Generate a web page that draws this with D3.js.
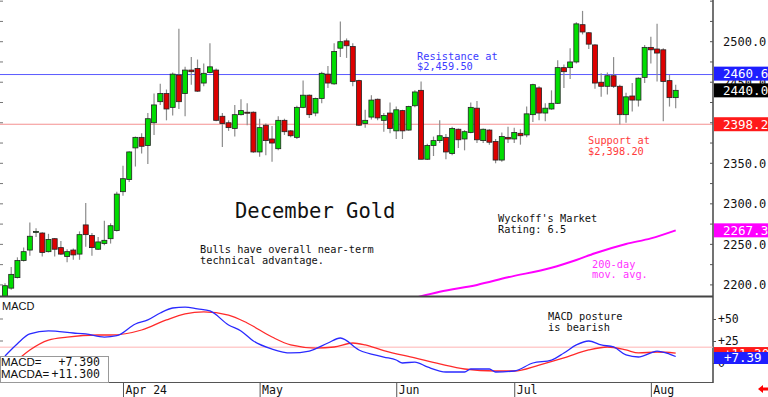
<!DOCTYPE html>
<html>
<head>
<meta charset="utf-8">
<script src="https://cdn.jsdelivr.net/npm/d3@7"></script>
<style>
  html, body { margin: 0; padding: 0; background: #fff; }
  svg { display: block; }
</style>
</head>
<body>
<div id="chart"></div>
<script>
// daily OHLC, one entry per trading day (index 0 = mid March, 108 = Aug 7)
const opens = [
  2186, 2196, 2209, 2230, 2243, 2265, 2264, 2241, 2257, 2246,
  2235, 2243, 2238, 2274, 2261, 2244, 2251, 2257, 2267, 2315,
  2330, 2369, 2382, 2372, 2400, 2426, 2436, 2419, 2459, 2436,
  2465, 2467, 2449, 2462, 2465, 2408, 2400, 2393, 2410, 2413,
  2413, 2364, 2397, 2380, 2368, 2403, 2390, 2382, 2419, 2434,
  2412, 2430, 2460, 2448, 2492, 2501, 2494, 2452, 2399, 2407,
  2429, 2403, 2412, 2390, 2415, 2391, 2421, 2440, 2355, 2372,
  2378, 2382, 2362, 2392, 2380, 2388, 2418, 2378, 2391, 2377,
  2354, 2382, 2380, 2387, 2385, 2410, 2443, 2412, 2417, 2424,
  2468, 2468, 2475, 2521, 2511, 2496, 2450, 2445, 2458, 2445,
  2410, 2433, 2428, 2456, 2493, 2491, 2490, 2452, 2431
];
const highs = [
  2202, 2222, 2234, 2246, 2277, 2270, 2265, 2263, 2258, 2254,
  2244, 2245, 2266, 2301, 2264, 2259, 2279, 2276, 2315, 2347,
  2365, 2383, 2387, 2412, 2436, 2448, 2441, 2462, 2516, 2469,
  2481, 2478, 2473, 2498, 2467, 2412, 2403, 2422, 2429, 2424,
  2414, 2405, 2399, 2396, 2408, 2405, 2391, 2421, 2452, 2435,
  2431, 2463, 2470, 2498, 2525, 2504, 2498, 2453, 2416, 2434,
  2430, 2412, 2425, 2420, 2416, 2421, 2440, 2451, 2374, 2383,
  2403, 2386, 2395, 2393, 2391, 2425, 2427, 2393, 2392, 2380,
  2388, 2395, 2394, 2392, 2420, 2448, 2445, 2424, 2440, 2477,
  2472, 2492, 2524, 2538, 2512, 2497, 2461, 2462, 2481, 2447,
  2437, 2449, 2456, 2496, 2506, 2522, 2492, 2459, 2447
];
const lows = [
  2184, 2194, 2208, 2229, 2236, 2259, 2235, 2240, 2235, 2237,
  2228, 2231, 2231, 2247, 2236, 2243, 2249, 2251, 2266, 2310,
  2327, 2346, 2362, 2349, 2385, 2422, 2403, 2409, 2417, 2408,
  2447, 2438, 2445, 2461, 2402, 2370, 2390, 2383, 2409, 2397,
  2363, 2358, 2360, 2352, 2366, 2385, 2382, 2380, 2418, 2406,
  2408, 2424, 2443, 2447, 2481, 2480, 2445, 2396, 2394, 2404,
  2403, 2389, 2387, 2380, 2380, 2390, 2419, 2355, 2354, 2359,
  2375, 2355, 2360, 2369, 2366, 2387, 2375, 2375, 2373, 2350,
  2352, 2375, 2375, 2373, 2382, 2401, 2403, 2402, 2416, 2423,
  2443, 2454, 2473, 2509, 2491, 2442, 2432, 2435, 2443, 2398,
  2400, 2414, 2420, 2449, 2473, 2451, 2402, 2420, 2418
];
const closes = [
  2199, 2213, 2230, 2241, 2260, 2266, 2240, 2256, 2244, 2238,
  2241, 2237, 2262, 2262, 2246, 2253, 2255, 2273, 2312, 2331,
  2364, 2382, 2371, 2405, 2422, 2436, 2417, 2460, 2426, 2465,
  2463, 2439, 2461, 2469, 2403, 2399, 2394, 2410, 2415, 2412,
  2364, 2394, 2378, 2375, 2403, 2389, 2384, 2419, 2434, 2410,
  2430, 2461, 2449, 2488, 2500, 2495, 2451, 2397, 2403, 2428,
  2406, 2409, 2393, 2416, 2390, 2420, 2438, 2355, 2372, 2378,
  2384, 2364, 2393, 2379, 2389, 2419, 2379, 2392, 2376, 2354,
  2383, 2380, 2388, 2384, 2411, 2447, 2412, 2418, 2424, 2468,
  2463, 2475, 2522, 2512, 2497, 2449, 2445, 2458, 2445, 2410,
  2432, 2428, 2455, 2493, 2490, 2486, 2451, 2431, 2440
];

// 200-day moving average, sampled days
const maDays   = [66, 70, 76, 81, 88, 92, 95, 100, 104, 108];
const maValues = [2184, 2191.6, 2200, 2209.4, 2221.2, 2230.8, 2239, 2250.5, 2257.4, 2267.3];

// MACD (blue) and MACDA (red), sampled days
const macdDays = [0, 2, 4, 7, 11, 13, 16, 18, 21, 23, 25, 27, 29, 31, 33, 36, 38, 40, 43, 46,
  49, 52, 54, 57, 61, 63, 64, 66, 68, 71, 74, 75, 78, 79, 82, 85, 88, 90, 92, 94,
  96, 98, 100, 102, 104, 105, 107, 108];
const macdValues = [8, 22, 33, 36.4, 34.1, 33, 29.5, 31, 44.3, 48.9, 56.8, 62.5, 63.6, 61.4, 59.1, 43.2, 36.4, 25, 15.9, 11.4,
  13.6, 22.7, 28.4, 14.8, 6.8, 3.4, 0, 1.1, -4.5, -10.2, -10.2, -6.8, -6.8, -10.2, -9.1, 0, 3.4, 11.4, 20.5, 25,
  20.5, 18.2, 9.1, 6.8, 11.4, 13.6, 10.2, 7.39];
const signalDays = [2, 4, 7, 10, 15, 17, 22, 26, 29, 32, 36, 39, 43, 46, 50, 53, 56, 58, 61, 66,
  70, 74, 79, 82, 86, 90, 94, 97, 100, 102, 105, 108];
const signalValues = [3.4, 14.8, 26.1, 29.5, 31.8, 31.8, 37.5, 48.9, 55.7, 58, 54.5, 45.5, 29.5, 20.5, 17, 18.2, 22.7, 20.5, 14, 5.7,
  -1.1, -6.8, -9.1, -9.1, -2.3, 5.7, 14.8, 18.2, 14.8, 11.4, 12.5, 11.3];

const monthLabels = ["Apr 24", "May", "Jun", "Jul", "Aug"];
const monthStarts = [19, 41, 63, 82, 104];
// 2400.0 sits fully under the support tag in the original, so it is left out
const priceTicks = [2200, 2250, 2300, 2350, 2450, 2500];
const macdTicks = [0, 25, 50];
const resistance = 2459.5;
const support = 2398.2;
const priceTags = [2460.6, 2440.0, 2398.2, 2267.3];
const priceTagColors = ["#1e1eff", "#000000", "#ff1a1a", "#ff00ff"];
const macdTags = [11.30, 7.39];
const macdTagColors = ["#ff1a1a", "#1e1eff"];
const macdRef = 18;

const W = 768, H = 397;
const axisX = 713;
const MONO = "'DejaVu Sans Mono', monospace";
const SANS = "'Liberation Sans', Arial, sans-serif";

const svg = d3.select("#chart").append("svg")
  .attr("width", W).attr("height", H)
  .attr("viewBox", `0 0 ${W} ${H}`)
  .style("font-family", MONO);

svg.append("rect").attr("width", W).attr("height", H).attr("fill", "#fff");

// scales
const x = d3.scaleLinear().domain([0, 108]).range([5, 675.7]);
const yPrice = d3.scaleLinear().domain([2200, 2500]).range([284.9, 41.7]);
const yMacd = d3.scaleLinear().domain([0, 50]).range([363, 319]);

const defs = svg.append("defs");
defs.append("clipPath").attr("id", "clipMain")
  .append("rect").attr("x", 0).attr("y", 0).attr("width", axisX).attr("height", 296);
defs.append("clipPath").attr("id", "clipMacd")
  .append("rect").attr("x", 0).attr("y", 298).attr("width", axisX).attr("height", 84);

// ---- price panel ----
const main = svg.append("g").attr("clip-path", "url(#clipMain)");

main.append("line")
  .attr("x1", 0).attr("x2", axisX)
  .attr("y1", yPrice(resistance)).attr("y2", yPrice(resistance))
  .attr("stroke", "#5a5aff").attr("stroke-width", 1);
main.append("line")
  .attr("x1", 0).attr("x2", axisX)
  .attr("y1", yPrice(support)).attr("y2", yPrice(support))
  .attr("stroke", "#f49090").attr("stroke-width", 1.2);

const ma = maDays.map((d, i) => [d, maValues[i]]);
main.append("path")
  .datum(ma)
  .attr("fill", "none")
  .attr("stroke", "#ff00ff")
  .attr("stroke-width", 2)
  .attr("d", d3.line().x(d => x(d[0])).y(d => yPrice(d[1])).curve(d3.curveMonotoneX));

const candles = opens.map((o, i) => ({ i, o, h: highs[i], l: lows[i], c: closes[i] }));
const bodyW = 5;

main.selectAll("line.wick")
  .data(candles)
  .join("line")
  .classed("wick", true)
  .attr("x1", d => x(d.i)).attr("x2", d => x(d.i))
  .attr("y1", d => yPrice(d.h)).attr("y2", d => yPrice(d.l))
  .attr("stroke", "#8c8c8c").attr("stroke-width", 1.2);

main.selectAll("rect.body")
  .data(candles)
  .join("rect")
  .classed("body", true)
  .attr("x", d => x(d.i) - bodyW / 2)
  .attr("width", bodyW)
  .attr("y", d => yPrice(Math.max(d.o, d.c)))
  .attr("height", d => Math.max(1, Math.abs(yPrice(d.o) - yPrice(d.c))))
  .attr("fill", d => d.c >= d.o ? "#00dd00" : "#dd0000")
  .attr("stroke", "#222")
  .attr("stroke-width", 0.8);

// panel frame
svg.append("line").attr("x1", 0).attr("x2", axisX).attr("y1", 296.5).attr("y2", 296.5)
  .attr("stroke", "#444").attr("stroke-width", 2);
svg.append("line").attr("x1", 0).attr("x2", axisX).attr("y1", 382.5).attr("y2", 382.5)
  .attr("stroke", "#555").attr("stroke-width", 1);
svg.append("line").attr("x1", axisX).attr("x2", axisX).attr("y1", 0).attr("y2", 383)
  .attr("stroke", "#444").attr("stroke-width", 1.5);

// small tick marks, left and right of the price panel
const minorTicks = d3.range(2200, 2551, 25);
svg.append("g")
  .selectAll("line")
  .data(minorTicks)
  .join("line")
  .attr("x1", 0).attr("x2", 3)
  .attr("y1", d => yPrice(d)).attr("y2", d => yPrice(d))
  .attr("stroke", "#777");
svg.append("g")
  .selectAll("line")
  .data(minorTicks)
  .join("line")
  .attr("x1", axisX - 3).attr("x2", axisX)
  .attr("y1", d => yPrice(d)).attr("y2", d => yPrice(d))
  .attr("stroke", "#555");

// right price axis
const priceAxis = svg.append("g")
  .attr("transform", `translate(${axisX},0)`)
  .call(d3.axisRight(yPrice).tickValues(priceTicks).tickSize(0).tickPadding(10).tickFormat(d3.format(".1f")));
priceAxis.select(".domain").remove();
priceAxis.selectAll("text")
  .attr("font-family", MONO).attr("font-size", 12).attr("fill", "#111");

// coloured value tags on the price axis
const tagH = 14;
const tags = svg.append("g");
priceTags.forEach((v, k) => {
  tags.append("rect")
    .attr("x", axisX + 1).attr("y", yPrice(v) - tagH / 2)
    .attr("width", W - axisX - 1).attr("height", tagH)
    .attr("fill", priceTagColors[k]);
  tags.append("text")
    .attr("x", axisX + 10).attr("y", yPrice(v)).attr("dy", "0.36em")
    .attr("font-size", 12.5).attr("fill", "#fff")
    .text(d3.format(".1f")(v));
});

// text notes on the price panel
function note(lines, px, py, color, size = 10.3, lh = 10.5) {
  const t = svg.append("text")
    .attr("x", px).attr("y", py)
    .attr("font-family", MONO).attr("font-size", size).attr("fill", color);
  lines.forEach((s, k) => t.append("tspan").attr("x", px).attr("dy", k ? lh : 0).text(s));
}
note(["Resistance at", "$2,459.50"], 417, 59.5, "#3c3cff", 10.3, 10);
note(["Support at", "$2,398.20"], 588, 144, "#ff3c3c");
note(["Bulls have overall near-term", "technical advantage."], 200, 253, "#111");
note(["Wyckoff's Market", "Rating: 6.5"], 498, 222, "#111");
note(["200-day", "mov. avg."], 592, 267.5, "#ff33ff");
note(["December Gold"], 235, 218, "#111", 20.5);

// ---- MACD panel ----
const macdPanel = svg.append("g").attr("clip-path", "url(#clipMacd)");

macdPanel.append("line")
  .attr("x1", 0).attr("x2", axisX)
  .attr("y1", yMacd(macdRef)).attr("y2", yMacd(macdRef))
  .attr("stroke", "#ffb4b4").attr("stroke-width", 1);

const macdLine = d3.line().x(d => x(d[0])).y(d => yMacd(d[1])).curve(d3.curveMonotoneX);
macdPanel.append("path")
  .datum(signalDays.map((d, i) => [d, signalValues[i]]))
  .attr("fill", "none").attr("stroke", "#ff2a2a").attr("stroke-width", 1.3)
  .attr("d", macdLine);
macdPanel.append("path")
  .datum(macdDays.map((d, i) => [d, macdValues[i]]))
  .attr("fill", "none").attr("stroke", "#2a2aff").attr("stroke-width", 1.3)
  .attr("d", macdLine);

svg.append("g")
  .selectAll("line")
  .data(macdTicks.filter(d => d > 0))
  .join("line")
  .attr("x1", 0).attr("x2", 3)
  .attr("y1", d => yMacd(d)).attr("y2", d => yMacd(d))
  .attr("stroke", "#777");

svg.append("text").attr("x", 2).attr("y", 309.5)
  .attr("font-family", SANS).attr("font-size", 11).attr("fill", "#111")
  .text("MACD");

note(["MACD posture", "is bearish"], 548, 320, "#111");

const macdAxis = svg.append("g")
  .attr("transform", `translate(${axisX},0)`)
  .call(d3.axisRight(yMacd).tickValues(macdTicks).tickSize(3).tickPadding(2)
    .tickFormat(d => d > 0 ? "+" + d : d));
macdAxis.select(".domain").remove();
macdAxis.selectAll("line").attr("stroke", "#555");
macdAxis.selectAll("text")
  .attr("font-family", MONO).attr("font-size", 11.5).attr("fill", "#111");

const macdTagH = 12;
macdTags.forEach((v, k) => {
  svg.append("rect")
    .attr("x", axisX + 1).attr("y", yMacd(v) - macdTagH / 2 + (k ? 1.5 : 0))
    .attr("width", W - axisX - 1).attr("height", macdTagH)
    .attr("fill", macdTagColors[k]);
  svg.append("text")
    .attr("x", axisX + 11).attr("y", yMacd(v) + (k ? 1.5 : 0)).attr("dy", "0.36em")
    .attr("font-size", 12.5).attr("fill", "#fff")
    .text("+" + d3.format(".2f")(v));
});

// legend box bottom-left
const legend = svg.append("g");
legend.append("rect")
  .attr("x", 0.5).attr("y", 356.5).attr("width", 108).attr("height", 26)
  .attr("fill", "#fff").attr("stroke", "#999");
[["MACD=", "+" + d3.format(".3f")(macdTags[1])], ["MACDA=", "+" + d3.format(".3f")(macdTags[0])]]
  .forEach((row, k) => {
    legend.append("text").attr("x", 1).attr("y", 366 + k * 12)
      .attr("font-family", SANS).attr("font-size", 11.5).attr("fill", "#111").text(row[0]);
    legend.append("text").attr("x", 100).attr("y", 366 + k * 12)
      .attr("text-anchor", "end")
      .attr("font-family", MONO).attr("font-size", 11.5).attr("fill", "#111").text(row[1]);
  });

// ---- date axis ----
const dateAxis = svg.append("g")
  .attr("transform", "translate(0,382)")
  .call(d3.axisBottom(x).tickValues(monthStarts).tickSize(15).tickFormat((d, i) => monthLabels[i]));
dateAxis.select(".domain").remove();
dateAxis.selectAll("line").attr("stroke", "#555");
dateAxis.selectAll("text")
  .attr("text-anchor", "start").attr("x", 2).attr("y", 7.5).attr("dy", "0.36em")
  .attr("font-family", MONO).attr("font-size", 11.5).attr("fill", "#111");

// little red arrow, bottom right
svg.append("path")
  .attr("d", "M758,389 L763,385 L763,387.5 L768,387.5 L768,390.5 L763,390.5 L763,393 Z")
  .attr("fill", "#ff0000");
</script>
</body>
</html>
